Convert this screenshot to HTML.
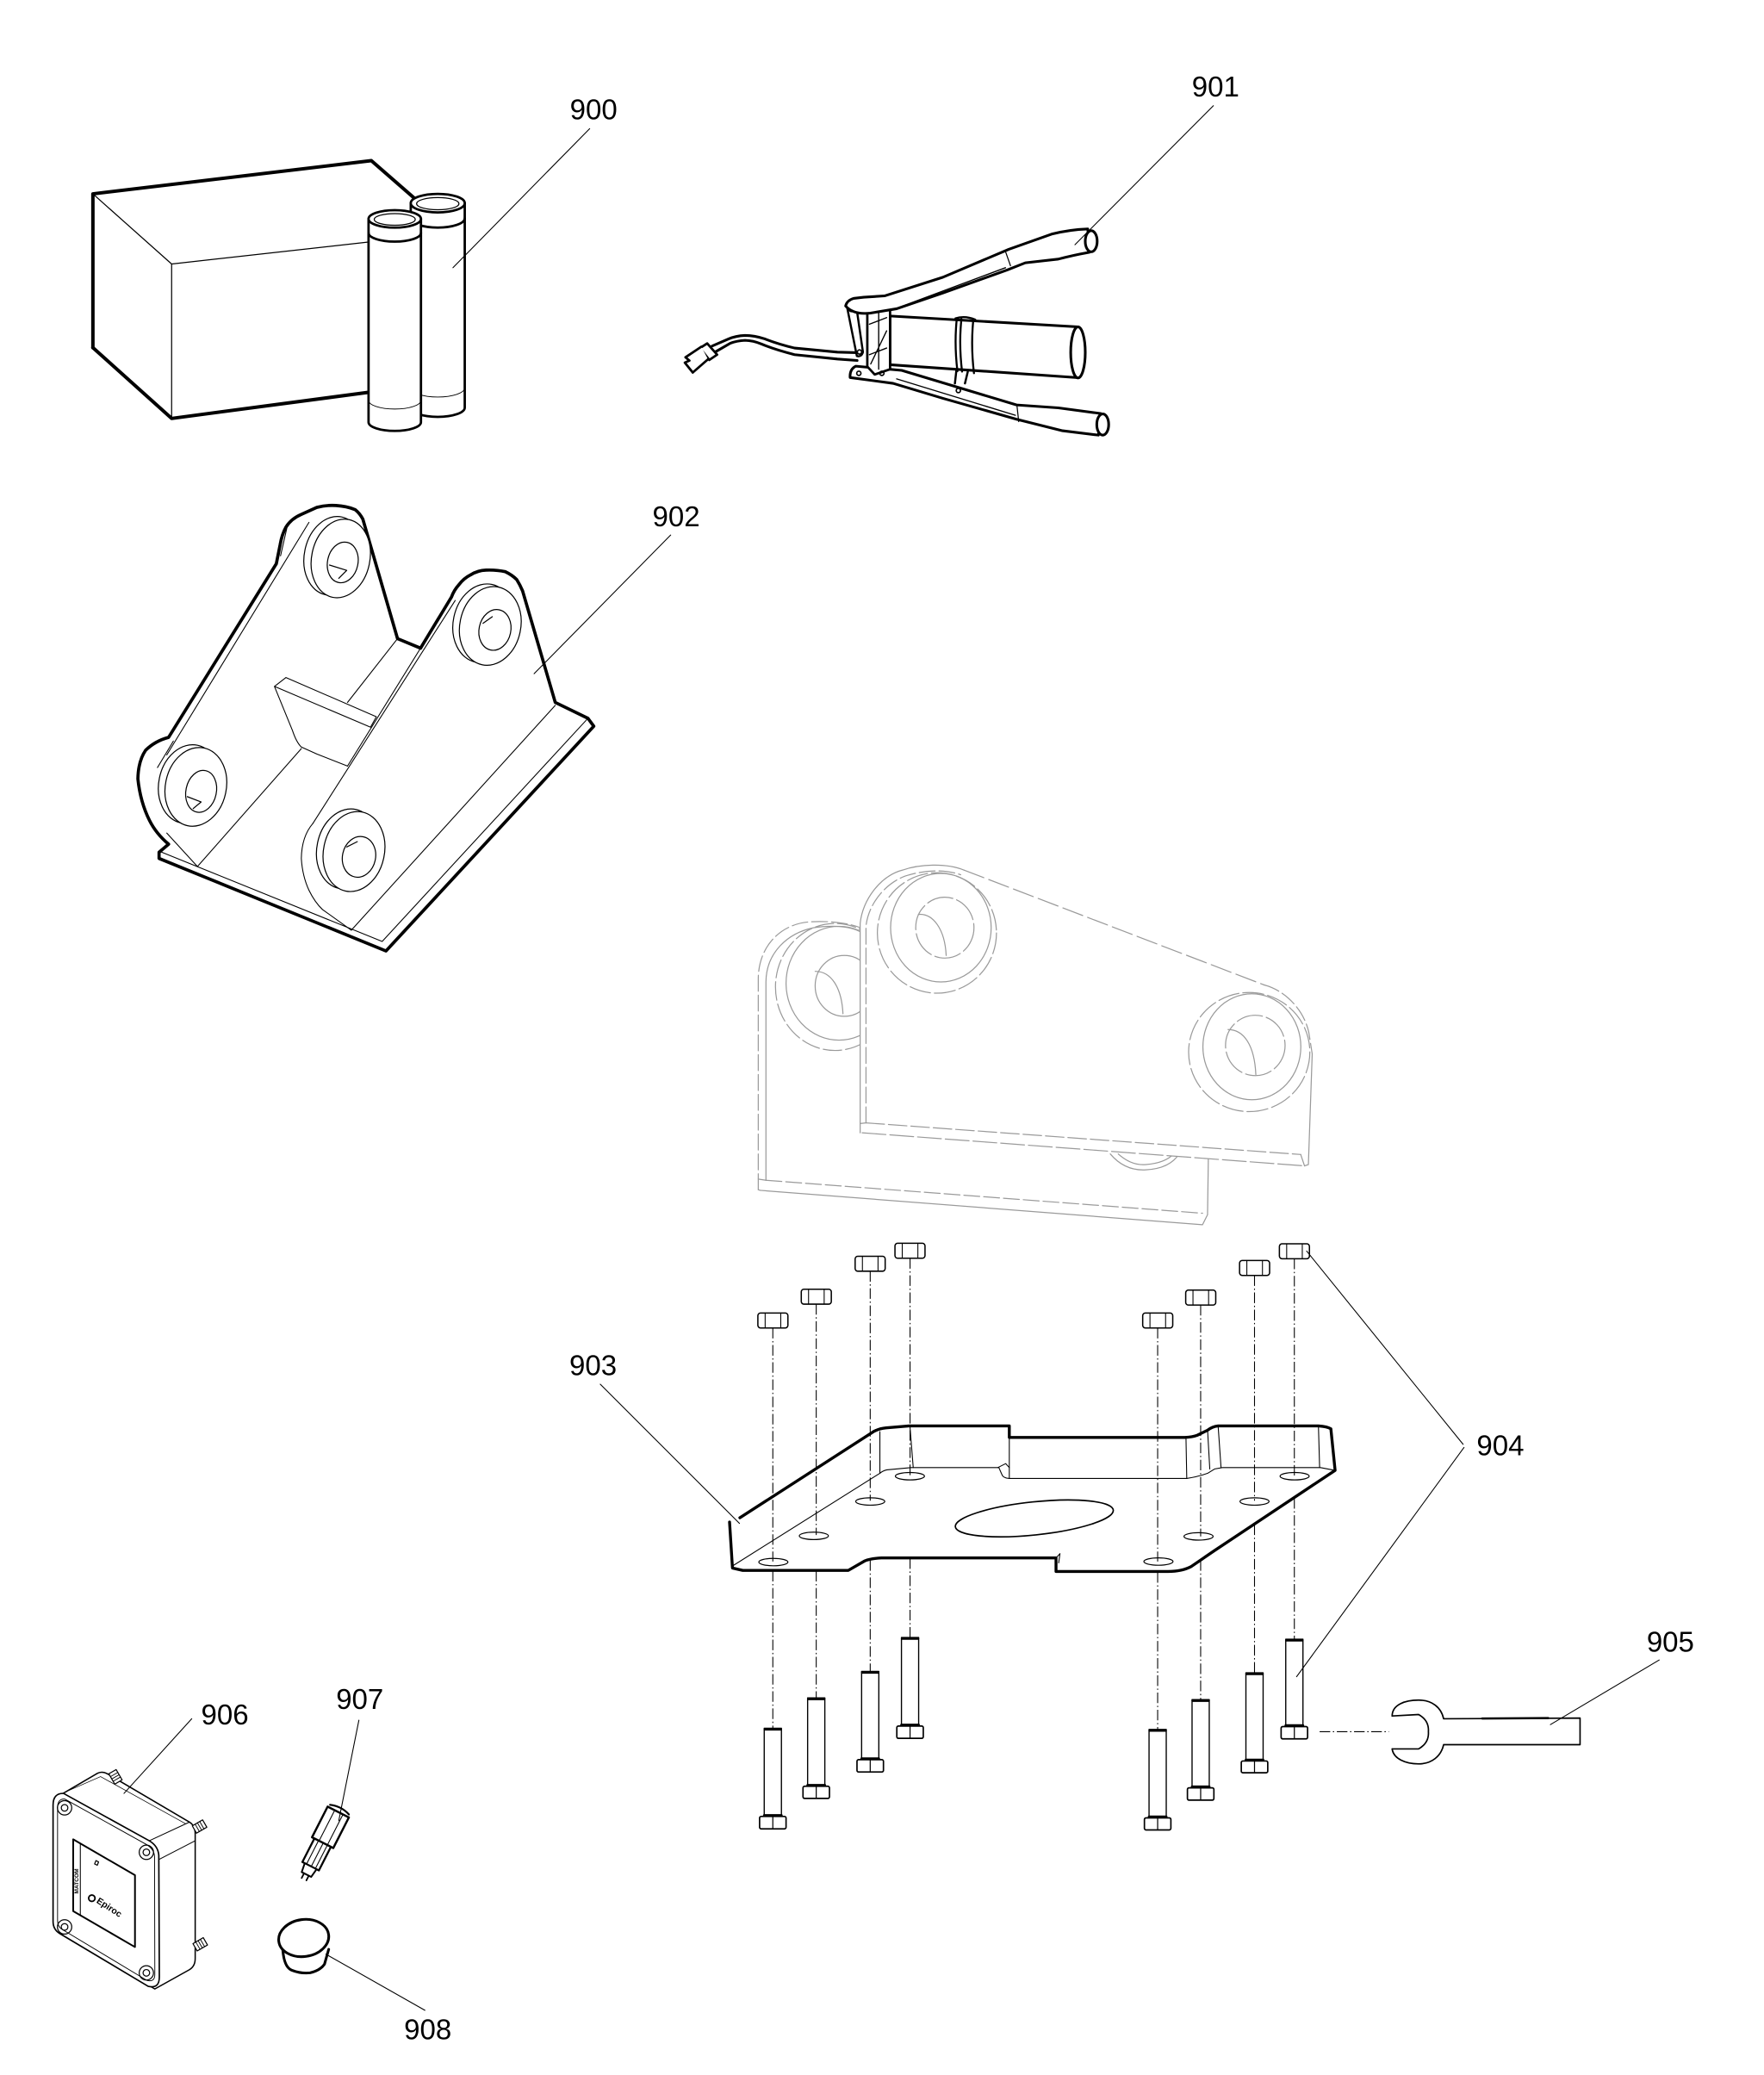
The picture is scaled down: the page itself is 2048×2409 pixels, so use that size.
<!DOCTYPE html>
<html><head><meta charset="utf-8">
<style>
html,body{margin:0;padding:0;background:#fff;}
svg{display:block;}
text{font-family:"Liberation Sans",Arial,sans-serif;fill:#000;}
</style></head><body>
<svg xmlns="http://www.w3.org/2000/svg" width="2048" height="2409" viewBox="0 0 1333 1568" preserveAspectRatio="none">
<rect x="0" y="0" width="1333" height="1568" fill="#fff"/>
<g fill="none" stroke="#000" stroke-linejoin="round" stroke-linecap="round">

<!-- ===== 900 box + tubes ===== -->
<path d="M70.2,262.7 L70.2,146.5 L280.6,121.4 L318,154" stroke-width="2.6"/>
<path d="M70.2,262.7 L129.7,316.2 L282,296" stroke-width="2.6"/>
<path d="M70.2,146.5 L129.7,199.5 L282,182.5 M129.7,199.5 L129.7,316.2" stroke-width="0.8"/>
<path d="M310.4,153.5 L310.4,308 A20.4,7 0 0 0 351.2,308 L351.2,153.5 Z" fill="#fff" stroke-width="1.8"/>
<ellipse cx="330.8" cy="153.5" rx="20.4" ry="7" fill="#fff" stroke-width="1.8"/>
<ellipse cx="330.8" cy="153.9" rx="16" ry="4.6" stroke-width="0.8"/>
<path d="M310.4,165 A20.4,7 0 0 0 351.2,165" stroke-width="1.8"/>
<path d="M310.4,293 A20.4,7 0 0 0 351.2,293" stroke-width="0.6"/>
<path d="M278.5,165.4 L278.5,319 A19.8,6.6 0 0 0 318.1,319 L318.1,165.4 Z" fill="#fff" stroke-width="1.8"/>
<ellipse cx="298.3" cy="165.4" rx="19.8" ry="6.6" fill="#fff" stroke-width="1.8"/>
<ellipse cx="298.3" cy="165.8" rx="15.5" ry="4.4" stroke-width="0.8"/>
<path d="M278.5,176 A19.8,6.6 0 0 0 318.1,176" stroke-width="1.8"/>
<path d="M278.5,302.5 A19.8,6.6 0 0 0 318.1,302.5" stroke-width="0.6"/>
<path d="M445.6,97.2 L342.3,202.3" stroke-width="0.7"/>

<!-- ===== 901 grease gun ===== -->
<path d="M647.7,266.5 L632.8,266.1 L600.4,263 Q588,260 578,256.1 Q570,253.5 563,253.5 Q556,253.8 550.6,256.1 L538.1,261.5" stroke-width="2"/>
<path d="M647.7,272.4 L632.8,271.3 L600.4,268 Q585,264 575.5,260 Q569,257.3 563,257.2 Q557,257.5 551.8,259.4 L540.6,265.9" stroke-width="2"/>
<path d="M534.4,259.5 L541.9,268 L536,272 L529,263 Z" fill="#fff" stroke-width="1.8"/>
<path d="M530,262 L518,270 L521,272.5 L517.5,274 L523.5,281.5 L535,271.5" fill="#fff" stroke-width="1.8"/>
<path d="M642.4,285.3 Q642,279 646.7,276.7 L681.4,279.9 L768.2,306 L799.7,308.2 L832,312.5 L830,328.8 L802.9,325.5 L768.2,316.8 L712.5,301 L674.9,289.7 Z" fill="#fff" stroke-width="2"/>
<ellipse cx="833.3" cy="320.8" rx="4.5" ry="8" fill="#fff" stroke-width="2"/>
<path d="M677.6,286.3 L767.3,313.8" stroke-width="0.9"/>
<path d="M768.5,306.5 L769.8,318.6" stroke-width="0.8"/>
<path d="M672.6,238.8 L815,247 L815,285.4 L672.6,275.6 Z" fill="#fff" stroke-width="2"/>
<ellipse cx="814.6" cy="266.3" rx="5.5" ry="19.3" fill="#fff" stroke-width="2"/>
<path d="M723,241 Q721,260 723.5,280.5 M726.5,241.2 Q724.5,260 727,280.8 M735.5,241.8 Q733.5,261 736,282" stroke-width="1.5"/>
<path d="M722,240.6 Q729,238.3 737,241.5" stroke-width="1.5"/>
<path d="M722.7,279.9 L721.6,289.7 M731.3,281 L729.2,289.7" stroke-width="1.6"/>
<path d="M655.4,235.5 L672.6,233.5 L672.6,279 L661,283 L655.4,277 Z" fill="#fff" stroke-width="1.8"/>
<path d="M664,236 L664,279 M657,245 L670,240 M657,268 L670,263 M658,275 L670,250" stroke-width="0.9"/>
<path d="M640.2,232.5 Q643,229 647,231 L652.1,266 Q651,270 647.5,269 Z" fill="#fff" stroke-width="1.6"/>
<circle cx="643.5" cy="233.5" r="2" stroke-width="1.1"/>
<circle cx="649.5" cy="266" r="1.6" stroke-width="1.1"/>
<circle cx="662.7" cy="231.2" r="1.6" stroke-width="1.1"/>
<circle cx="649" cy="282.1" r="1.6" stroke-width="1.1"/>
<circle cx="666.4" cy="282.1" r="1.6" stroke-width="1.1"/>
<circle cx="724.2" cy="295.1" r="1.6" stroke-width="1.1"/>
<path d="M639,231.2 Q640,227 645,225.5 L652.7,224.6 L668.4,223.6 L712.5,209.5 L762.3,188.4 L794.7,176.9 Q808,173.5 822,173 L823.3,190.6 Q810,193 799.7,195.8 L774.8,198.6 L761.1,204 L712.5,221.4 L677.6,233.3 L657.7,236.6 Q645,238 639,231.2 Z" fill="#fff" stroke-width="2"/>
<ellipse cx="824.6" cy="182.3" rx="4.5" ry="8" fill="#fff" stroke-width="2"/>
<path d="M759.8,202.3 L672.6,234.8" stroke-width="0.9"/>
<path d="M759.8,190 L763.6,200.8" stroke-width="0.8"/>
<path d="M916.9,79.9 L812.3,184.9" stroke-width="0.7"/>

<!-- ===== 902 bracket ===== -->
<path d="M208.8,426 L211.7,411.6 Q213,404 216.1,398.3 Q220,392 227.7,388.7 L239.4,383.4 Q247,381.5 253.9,382 Q262,382.5 268.4,385.1 Q272,388 274.2,392.3 L300.4,482.6 L317.8,489.8 L341.1,451.3 Q343,446 346.9,441.7 Q350.5,437 355.6,434.4 Q361,431 367.3,430.8 Q375,430.5 381.8,432 Q387,434.5 390.5,438 Q393,442 394.9,446.5 L419.6,530.8 L444.3,542.8 L448.7,548.8 L291.7,718.6 L120.2,648.7 L120.2,644 L127.4,637.9 Q118,630 113,620 Q106,606 104.2,588.5 Q104.5,575 110,567 Q117,560 127.4,557.2 Z" fill="#fff" stroke-width="2.4"/>
<g stroke-width="0.7">
<path d="M121,643.5 L288.8,711.4 L444.3,542.8"/>
<path d="M419.6,533 L265.5,702.9"/>
<path d="M236.4,622.3 Q228,632 227.7,648.7 Q228.5,662 233.5,672.8 Q238,682 243.7,687.3 L265.5,702.9"/>
<path d="M344,453.7 L236.4,622.3 M317.8,489.8 L262.6,578.9"/>
<path d="M233.5,394.7 L126,570.5 M300.4,482.6 L262.6,530.8 M227.7,565.7 L149.2,654.8 L126,629.5"/>
<path d="M216.1,512 L284.4,541.6 M207.4,518.7 L280,549.5 M207.4,518.7 L216.1,512 M207.4,518.7 L221,552 Q224,561 227.7,564.5 L239.4,569.8 L262.6,578.9 M284.4,541.6 L280,549.5"/>
<path d="M212,420 L217,398 M131,560 L119,580"/>
</g>
<g stroke-width="0.8">
<ellipse cx="252" cy="420" rx="22" ry="30" transform="rotate(12 252 420)" fill="#fff"/>
<ellipse cx="257.5" cy="422" rx="22" ry="30" transform="rotate(12 257.5 422)" fill="#fff"/>
<ellipse cx="259" cy="425" rx="11.5" ry="15.5" transform="rotate(12 259 425)"/>
<path d="M249,427 L262,431 L256,437"/>
<ellipse cx="365.5" cy="471" rx="23" ry="30" transform="rotate(12 365.5 471)" fill="#fff"/>
<ellipse cx="370.5" cy="473" rx="23" ry="30" transform="rotate(12 370.5 473)" fill="#fff"/>
<ellipse cx="374" cy="476" rx="12" ry="15.5" transform="rotate(12 374 476)"/>
<path d="M365,471 L372,466"/>
<ellipse cx="143" cy="592.5" rx="23" ry="30" transform="rotate(12 143 592.5)" fill="#fff"/>
<ellipse cx="148" cy="594.6" rx="23" ry="30" transform="rotate(12 148 594.6)" fill="#fff"/>
<ellipse cx="152" cy="598" rx="11.5" ry="16" transform="rotate(12 152 598)"/>
<path d="M141.5,602 L152,606 L146,611"/>
<ellipse cx="262.5" cy="641.5" rx="23" ry="30.5" transform="rotate(12 262.5 641.5)" fill="#fff"/>
<ellipse cx="267.5" cy="643.5" rx="23" ry="30.5" transform="rotate(12 267.5 643.5)" fill="#fff"/>
<ellipse cx="271.3" cy="647.5" rx="12.5" ry="15.5" transform="rotate(12 271.3 647.5)"/>
<path d="M262,640 L270,636"/>
</g>
<path d="M506.8,404.3 L403.6,509.1" stroke-width="0.7"/>

<!-- ===== ghost bracket ===== -->
<g stroke="#9a9a9a" stroke-width="0.8">
<path d="M573,899 L573,740 C573,715 590,698 612,696.6 C625,695.8 640,697 650,701" stroke-dasharray="12 3"/>
<path d="M578.8,892 L578.8,742 C579,720 595,705 615,701 C630,699 642,700 650,704"/>
<path d="M578.8,891.9 L908.7,916.8" stroke-dasharray="12 3"/>
<path d="M574.4,899.5 L908.7,925.5 L912.5,917.9 L913.1,875.6"/>
<path d="M573,899 L574.4,899.5 M573,891 L578.8,891.9"/>
<ellipse cx="631" cy="745.8" rx="45" ry="48" stroke-dasharray="14 3"/>
<ellipse cx="634" cy="743" rx="40" ry="43"/>
<ellipse cx="638" cy="745" rx="22" ry="23"/>
<path d="M616,734 C628,734 636,746 637,766"/>
<path d="M839,872 Q850,885 866,884 Q884,883 891,872"/>
<path d="M845,872 Q855,881 866,880 Q880,879 887,872"/>
<path d="M650,856 L650,697.7 C652,680 665,662 682,657.5 C695,653 715,652 728.5,657.5 L955.3,744.3 C970,748 985,762 989,780 L991.6,796.4 L988.7,880 L985.8,881 L651.5,856 Z" fill="#fff" stroke="none"/>
<path d="M650,856 L650,697.7 C652,680 665,662 682,657.5 C695,653 715,652 728.5,657.5"/>
<path d="M728.5,657.5 L955.3,744.3" stroke-dasharray="16 4"/>
<path d="M955.3,744.3 C970,748 985,762 989,780 L991.6,796.4" stroke-dasharray="12 3"/>
<path d="M991.6,796.4 L988.7,880 L985.8,881"/>
<path d="M654.4,848.5 L654.4,700 C656,684 668,668 684,662 C700,657 714,657 726,661" stroke-dasharray="12 3"/>
<path d="M654.4,848.5 L982.9,872.4" stroke-dasharray="14 3"/>
<path d="M651.5,856 L985.8,881" stroke-dasharray="18 3"/>
<path d="M650,849 L654.4,848.5 M982.9,872.4 L985.8,881"/>
<ellipse cx="708" cy="705" rx="45" ry="45.5" fill="#fff" stroke-dasharray="16 3"/>
<ellipse cx="711" cy="701" rx="38" ry="41"/>
<ellipse cx="714" cy="701" rx="22" ry="23" stroke-dasharray="20 3"/>
<path d="M694,691 C705,690 714,702 715,722"/>
<ellipse cx="944" cy="795" rx="45.8" ry="45" fill="#fff" stroke-dasharray="16 3"/>
<ellipse cx="946" cy="791" rx="37" ry="40"/>
<ellipse cx="948.6" cy="790" rx="22.5" ry="22.8" stroke-dasharray="20 3"/>
<path d="M928,778 C940,778 948,790 949,812"/>
</g>

<!-- ===== 903 plate ===== -->
<path d="M551.3,1150.2 L559.1,1146.9 L660.1,1081.8 L669.6,1079 L687,1077.5 L762.7,1077.5 L762.7,1086.2 L895.3,1086.2 L904.7,1084.6 L912.6,1080.7 L920.5,1077.5 L996.3,1077.5 L1005.7,1079.7 L1008.9,1111.1 L917.5,1171.9 L900.1,1183.8 L882.6,1187.5 L798,1187.5 L798,1177.3 L666,1177.3 L653.5,1179.5 L641,1186.7 L561.3,1186.7 L553.5,1184.9 Z" fill="#fff" stroke="none"/>
<path d="M559.1,1146.9 L660.1,1081.8 Q664,1079.6 669.6,1079 L687,1077.5 L762.7,1077.5 L762.7,1086.2 L895.3,1086.2 Q901,1086 904.7,1084.6 L912.6,1080.7 Q916,1078 920.5,1077.5 L996.3,1077.5 Q1003,1078 1005.7,1079.7 L1008.9,1111.1 L917.5,1171.9 L900.1,1183.8 Q893,1187.5 882.6,1187.5 L798,1187.5 L798,1177.3 L666,1177.3 Q658,1177.6 653.5,1179.5 L641,1186.7 L561.3,1186.7 L553.5,1184.9 L551.3,1150.2" stroke-width="2.2"/>
<g stroke-width="0.7">
<path d="M552.8,1183.8 L664.9,1113.3 Q667,1111.4 670.2,1110.7 L688.6,1109 L754.8,1109"/>
<path d="M754.8,1109 L757,1114 Q758,1117 762.7,1117.2 L896.8,1117.2 Q905,1116 912.6,1113.3 L918,1110 L923.7,1109 L997.8,1109 L1008.9,1111.1"/>
<path d="M664.9,1081.8 L664.9,1113.3 M687.6,1077.5 L690.1,1109 M762.7,1086.2 L762.7,1117.2 M896.2,1086.2 L896.8,1117.2 M912.6,1081.8 L914.2,1110.1 M920.5,1077.5 L922.7,1109 M996.3,1077.5 L997.2,1109"/>
<path d="M754,1109 L760,1106 L762.7,1109"/>
<path d="M798,1177.3 L801,1174 L800,1181"/>
</g>
<g stroke-width="0.8">
<ellipse cx="687.6" cy="1115.5" rx="11" ry="2.8"/>
<ellipse cx="657.6" cy="1134.6" rx="11" ry="2.8"/>
<ellipse cx="615" cy="1160.6" rx="11" ry="2.8"/>
<ellipse cx="584.4" cy="1180.4" rx="11" ry="2.8"/>
<ellipse cx="978.3" cy="1115.5" rx="11" ry="2.8"/>
<ellipse cx="948" cy="1134.6" rx="11" ry="2.8"/>
<ellipse cx="905.7" cy="1161" rx="11" ry="2.8"/>
<ellipse cx="875.4" cy="1180" rx="11" ry="2.8"/>
</g>
<ellipse cx="781.6" cy="1147.4" rx="60" ry="12.5" transform="rotate(-6 781.6 1147.4)" stroke-width="1.1"/>

<g stroke-width="0.7" stroke-dasharray="8 2 1 2" stroke-linecap="butt">
<path d="M584,1003.4 L584,1180 M584,1187 L584,1306"/>
<path d="M616.8,985.4 L616.8,1160 M616.8,1187 L616.8,1283"/>
<path d="M657.6,960.5 L657.6,1134 M657.6,1179 L657.6,1263"/>
<path d="M687.7,950.7 L687.7,1115 M687.7,1177.5 L687.7,1237.4"/>
<path d="M874.8,1003.4 L874.8,1180 M874.8,1188 L874.8,1306.9"/>
<path d="M907.3,986.1 L907.3,1161 M907.3,1179 L907.3,1284.3"/>
<path d="M948,963.7 L948,1134 M948,1152 L948,1264.1"/>
<path d="M978.1,951.1 L978.1,1115 M978.1,1132 L978.1,1238.7"/>
<path d="M997.2,1308.6 L1049.5,1308.6"/>
</g>

<g stroke-width="1" fill="#fff">
<rect x="572.7" y="992.2" width="22.7" height="11.3" rx="2"/>
<rect x="605.5" y="974.2" width="22.7" height="11.3" rx="2"/>
<rect x="646.2" y="949.3" width="22.7" height="11.3" rx="2"/>
<rect x="676.3" y="939.5" width="22.7" height="11.3" rx="2"/>
<rect x="863.5" y="992.2" width="22.7" height="11.3" rx="2"/>
<rect x="896" y="974.9" width="22.7" height="11.3" rx="2"/>
<rect x="936.7" y="952.5" width="22.7" height="11.3" rx="2"/>
<rect x="966.8" y="939.9" width="22.7" height="11.3" rx="2"/>
</g>
<g stroke-width="0.7">
<path d="M578.2,992.2 L578.2,1003.5 M590,992.2 L590,1003.5"/>
<path d="M611,974.2 L611,985.5 M622.8,974.2 L622.8,985.5"/>
<path d="M651.7,949.3 L651.7,960.6 M663.5,949.3 L663.5,960.6"/>
<path d="M681.8,939.5 L681.8,950.8 M693.6,939.5 L693.6,950.8"/>
<path d="M869,992.2 L869,1003.5 M880.8,992.2 L880.8,1003.5"/>
<path d="M901.5,974.9 L901.5,986.2 M913.3,974.9 L913.3,986.2"/>
<path d="M942.2,952.5 L942.2,963.8 M954,952.5 L954,963.8"/>
<path d="M972.3,939.9 L972.3,951.2 M984.1,939.9 L984.1,951.2"/>
</g>

<g fill="#fff">
<g stroke-width="0.9">
<rect x="577.5" y="1306" width="13" height="66.6"/>
<rect x="610.3" y="1283" width="13" height="66.8"/>
<rect x="651.1" y="1263" width="13" height="66.7"/>
<rect x="681.2" y="1237.4" width="13" height="66.9"/>
<rect x="868.3" y="1306.9" width="13" height="66.8"/>
<rect x="900.8" y="1284.3" width="13" height="66.7"/>
<rect x="941.5" y="1264.1" width="13" height="66.6"/>
<rect x="971.6" y="1238.7" width="13" height="66"/>
</g>
<g stroke-width="1.1">
<rect x="574" y="1372.6" width="20" height="9.4" rx="1.2"/>
<rect x="606.8" y="1349.8" width="20" height="9.2" rx="1.2"/>
<rect x="647.6" y="1329.7" width="20" height="9.3" rx="1.2"/>
<rect x="677.7" y="1304.3" width="20" height="9.3" rx="1.2"/>
<rect x="864.8" y="1373.7" width="20" height="9.1" rx="1.2"/>
<rect x="897.3" y="1351" width="20" height="9.3" rx="1.2"/>
<rect x="938" y="1330.7" width="20" height="8.9" rx="1.2"/>
<rect x="968.1" y="1304.7" width="20" height="9.3" rx="1.2"/>
</g>
</g>
<g stroke-width="1.9">
<path d="M578,1306.8 L590,1306.8 M610.8,1283.8 L622.8,1283.8 M651.6,1263.8 L663.6,1263.8 M681.7,1238.2 L693.7,1238.2 M868.8,1307.7 L880.8,1307.7 M901.3,1285.1 L913.3,1285.1 M942,1264.9 L954,1264.9 M972.1,1239.5 L984.1,1239.5"/>
<path d="M577.5,1371.8 L590.5,1371.8 M610.3,1349 L623.3,1349 M651.1,1328.9 L664.1,1328.9 M681.2,1303.5 L694.2,1303.5 M868.3,1372.9 L881.3,1372.9 M900.8,1350.2 L913.8,1350.2 M941.5,1329.9 L954.5,1329.9 M971.6,1303.9 L984.6,1303.9"/>
</g>
<g stroke-width="0.8">
<path d="M584,1372.6 L584,1382 M616.8,1349.8 L616.8,1359 M657.6,1329.7 L657.6,1339 M687.7,1304.3 L687.7,1313.6 M874.8,1373.7 L874.8,1382.8 M907.3,1351 L907.3,1360.3 M948,1330.7 L948,1339.6 M978.1,1304.7 L978.1,1314"/>
</g>

<path d="M453.6,1046 L558.8,1151.2" stroke-width="0.7"/>
<path d="M1105.6,1091.4 L987.4,945.4 M1106.3,1093.8 L979.8,1267" stroke-width="0.7"/>

<!-- ===== 905 wrench ===== -->
<path d="M1052,1296.7 L1072,1295.6 Q1080,1300 1079.4,1308.6 Q1080,1317 1072,1321.6 L1052,1321.6" stroke-width="1.1"/>
<path d="M1052,1296.7 C1052,1288 1062,1284.7 1072,1284.7 C1082,1284.7 1089,1290 1090.9,1298.8 L1194,1298.3 L1194,1318.4 L1090.9,1318.4 C1089,1327 1082,1332.9 1072,1332.9 C1062,1332.9 1053,1329 1052,1321.6" stroke-width="1.1"/>
<path d="M1120,1298.6 L1170,1298.3" stroke-width="1.6"/>
<path d="M1253.8,1254.4 L1171.6,1303.2" stroke-width="0.7"/>

<!-- ===== 906 box ===== -->
<path d="M47.7,1355.2 L73.7,1340 Q77,1338.3 81,1340.3 L143.2,1376.9 Q147.5,1379.5 147.5,1386 L147.5,1480 Q147.5,1486 143,1488.5 L117,1503 L112,1500 Z" fill="#fff" stroke-width="1"/>
<path d="M112.8,1391 L143.2,1376.9 M120.4,1405 L147.5,1391" stroke-width="0.7"/>
<path d="M52,1353 L76,1342.5 L140,1378" stroke-width="0.5"/>
<g stroke-width="0.8" fill="#fff">
<g transform="translate(88,1344) rotate(-30)"><rect x="-3.2" y="-6" width="6.4" height="9"/><path d="M-3.2,-3.5 L3.2,-3.5 M-3.2,-1.5 L3.2,-1.5 M-3.2,0.5 L3.2,0.5" stroke-width="0.6"/></g>
<g transform="translate(149.5,1381) rotate(60)"><rect x="-3.2" y="-6" width="6.4" height="9"/><path d="M-3.2,-3.5 L3.2,-3.5 M-3.2,-1.5 L3.2,-1.5 M-3.2,0.5 L3.2,0.5" stroke-width="0.6"/></g>
<g transform="translate(150,1470) rotate(60)"><rect x="-3.2" y="-6" width="6.4" height="9"/><path d="M-3.2,-3.5 L3.2,-3.5 M-3.2,-1.5 L3.2,-1.5 M-3.2,0.5 L3.2,0.5" stroke-width="0.6"/></g>
</g>
<path d="M40.1,1364 Q40.1,1355 48,1355.2 L112.8,1391 Q119.5,1395 120,1402 L120.4,1494 Q120.4,1503 112,1501 L45,1461 Q40.1,1458 40.1,1452 Z" fill="#fff" stroke-width="1.1"/>
<path d="M43.5,1365 Q44,1359 49,1359.5 L111,1394 Q116.5,1397.5 116.8,1403 L117,1492 Q117,1498 111,1496.5 L47,1458 Q43.5,1456 43.5,1451 Z" stroke-width="0.6"/>
<g stroke-width="0.8">
<circle cx="48.8" cy="1366.1" r="5.4"/><circle cx="48.8" cy="1366.1" r="2.5"/>
<circle cx="110.6" cy="1399.7" r="5.4"/><circle cx="110.6" cy="1399.7" r="2.5"/>
<circle cx="48.8" cy="1456.1" r="5.4"/><circle cx="48.8" cy="1456.1" r="2.5"/>
<circle cx="110.6" cy="1490.8" r="5.4"/><circle cx="110.6" cy="1490.8" r="2.5"/>
</g>
<path d="M55.3,1389.9 L102,1417 L102,1471.3 L55.3,1444.2 Z" stroke-width="1.3"/>
<path d="M60.7,1393 L60.7,1447.3" stroke-width="0.7"/>
<circle cx="69.4" cy="1434.4" r="2.4" stroke-width="1.2"/>
<path d="M72.5,1406 l2,1 l-1,2.5 l-2,-1 z" stroke-width="0.8"/>
<path d="M144.9,1298.8 L93.7,1355.2" stroke-width="0.7"/>

<!-- ===== 907 ===== -->
<g transform="translate(242,1396) rotate(27)">
<path d="M-9,-30 L9,-30 L9,-4 L-9,-4 Z" fill="#fff" stroke-width="1.6"/>
<path d="M-3,-30 L-3,-4 M4,-30 L4,-4" stroke-width="0.7"/>
<path d="M-8,-32 Q0,-35 8,-32" stroke-width="1.4"/>
<path d="M-7,-4 L7,-4 L7,16 L-7,16 Z" fill="#fff" stroke-width="1.5"/>
<path d="M-3.5,-4 L-3.5,16 M0.5,-4 L0.5,16 M4,-4 L4,16" stroke-width="0.7"/>
<path d="M-5,16 L5,16 L4,23 L-4,23 Z" fill="#fff" stroke-width="1.3"/>
<path d="M-2,23 L-2,27 M2,23 L2,27" stroke-width="1.2"/>
</g>
<path d="M271.2,1299.9 L256,1375.8" stroke-width="0.7"/>

<!-- ===== 908 ===== -->
<path d="M213.5,1470 Q214,1486 220.2,1488.7 Q227,1491.5 234.3,1490.8 Q242,1489 245.2,1484.3 L248.4,1473" fill="#fff" stroke-width="2"/>
<ellipse cx="229.5" cy="1464.5" rx="19" ry="14" transform="rotate(-8 229.5 1464.5)" fill="#fff" stroke-width="2"/>
<path d="M246.3,1476.7 L321.1,1519.1" stroke-width="0.7"/>
</g>

<g font-size="21.5" text-anchor="middle">
<text x="448.6" y="90.2">900</text>
<text x="918.6" y="72.8">901</text>
<text x="511" y="397.7">902</text>
<text x="448.2" y="1039.2">903</text>
<text x="1133.8" y="1099.8">904</text>
<text x="1262.3" y="1248">905</text>
<text x="169.9" y="1303.2">906</text>
<text x="271.9" y="1291.3">907</text>
<text x="323.3" y="1540.9">908</text>
</g>
<text x="0" y="0" font-size="4.3" font-weight="bold" transform="translate(59.3,1431) rotate(-90)">MATCOM</text>
<text x="0" y="0" font-size="6.8" font-weight="bold" transform="translate(72.5,1437.5) rotate(33)">Epiroc</text>
</svg>
</body></html>
